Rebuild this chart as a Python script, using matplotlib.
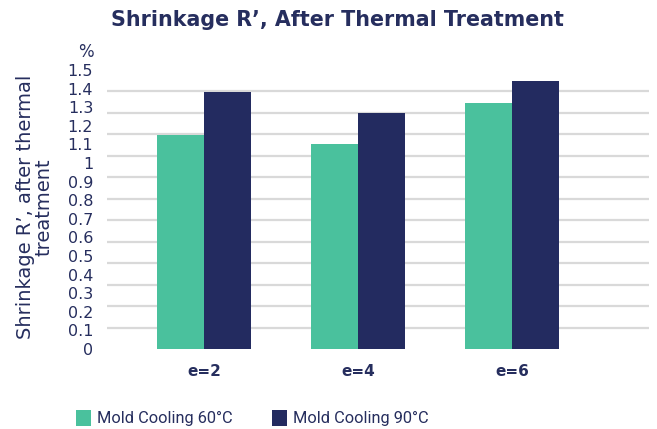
import matplotlib
matplotlib.use("Agg")
import matplotlib.pyplot as plt
import numpy as np

categories = ["e=2", "e=4", "e=6"]
series_names = ["Mold Cooling 60°C", "Mold Cooling 90°C"]
cooling_60 = [1.15, 1.10, 1.32]
cooling_90 = [1.38, 1.27, 1.44]
tick_values = [round(0.1 * i, 1) for i in range(16)]
tick_labels = ["0", "0.1", "0.2", "0.3", "0.4", "0.5", "0.6", "0.7", "0.8", "0.9",
               "1", "1.1", "1.2", "1.3", "1.4", "1.5"]

GREEN = "#4AC19D"
NAVY = "#232B60"
TXT = "#262E5E"

plt.rcParams['font.family'] = ['DejaVu Sans']

fig = plt.figure(figsize=(6.57, 4.29), dpi=100)
ax = fig.add_axes([0.1629, 0.1865, 0.8249, 0.6503])

x = np.arange(len(categories))
w = 0.308
ax.bar(x - w / 2, cooling_60, width=w, color=GREEN, zorder=3, label=series_names[0])
ax.bar(x + w / 2, cooling_90, width=w, color=NAVY, zorder=3, label=series_names[1])

ax.set_xlim(-0.63, 2.89)
ax.set_ylim(0, 1.5)
ax.set_yticks(tick_values)
ax.set_yticklabels(tick_labels)
ax.set_yticks(np.linspace(0, 1.5, 14), minor=True)
ax.yaxis.grid(True, which="minor", color="#D9D9D9", linewidth=1.6, zorder=0)
ax.yaxis.grid(False, which="major")
ax.tick_params(axis="y", which="both", length=0, labelsize=11.5, labelcolor=TXT, pad=10)
ax.set_xticks(x)
ax.set_xticklabels(categories, fontweight="bold", fontsize=11, color=TXT)
ax.tick_params(axis="x", length=0, pad=11)
for s in ax.spines.values():
    s.set_visible(False)

fig.text(35 / 657, 1 - 207 / 429, "Shrinkage R’, after thermal\ntreatment", fontsize=14,
         color=TXT, rotation=90, ha="center", va="center", multialignment="center",
         linespacing=0.95)
fig.text(86 / 657, 1 - 52 / 429, "%", fontsize=12, color=TXT, ha="center", va="center")
fig.text(337 / 657, 1 - 20 / 429, "Shrinkage R’, After Thermal Treatment",
         fontsize=14.9, fontweight="heavy", color=TXT, ha="center", va="center")

leg = fig.legend(loc="center", bbox_to_anchor=(252 / 657, 1 - 418 / 429), ncol=2,
                 frameon=False, handlelength=0.91, handleheight=1.16,
                 handletextpad=0.37, columnspacing=2.4, labelcolor=TXT,
                 prop={"family": ["Roboto"], "size": 11.8})

fig.savefig("out.png", dpi=100)
